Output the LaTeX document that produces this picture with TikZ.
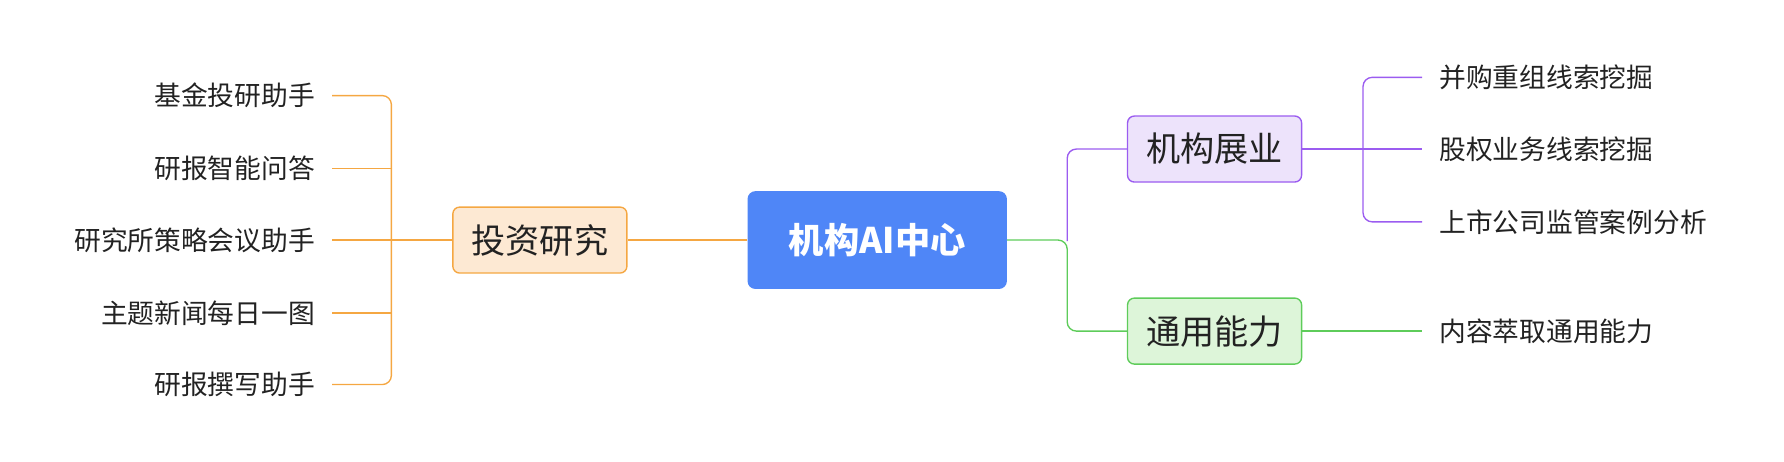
\documentclass[tikz,border=0pt]{standalone}
\usepackage{fontspec}
\setmainfont{Noto Sans CJK SC}
\definecolor{cblue}{HTML}{4F86F7}
\definecolor{corange}{HTML}{F5A742}
\definecolor{forange}{HTML}{FDE9D3}
\definecolor{cpurple}{HTML}{9B5CF0}
\definecolor{fpurple}{HTML}{EDE3FB}
\definecolor{cgreen}{HTML}{5ECC5A}
\definecolor{fgreen}{HTML}{DDF5D9}
\definecolor{ctext}{HTML}{222222}
\begin{document}
\begin{tikzpicture}[x=1pt,y=-1pt,
  topic/.style={draw,rounded corners=6pt,line width=1.2pt,minimum width=153pt,minimum height=58pt,inner sep=0pt,font=\fontsize{30}{34}\selectfont,text=ctext},
  leaf/.style={font=\fontsize{23.5}{27}\selectfont,text=ctext,inner sep=0pt},
  ln/.style={line width=1.2pt,rounded corners=8pt}]
\useasboundingbox (0,0) rectangle (1568,406);
\node[fill=cblue,rounded corners=7pt,minimum width=228pt,minimum height=86pt,inner sep=0pt,text=white,font=\fontsize{31}{35}\selectfont\bfseries] (c) at (771,211) {机构AI中心};
\node[topic,draw=corange,fill=forange] (l) at (474.5,211) {投资研究};
\node[topic,draw=cpurple,fill=fpurple] (p) at (1067.5,131) {机构展业};
\node[topic,draw=cgreen,fill=fgreen] (g) at (1067.5,291) {通用能力};
\draw[ln,corange] (c.west) -- (l.east);
\foreach \y/\t/\n in {84/基金投研助手/a,148/研报智能问答/b,211/研究所策略会议助手/cc,275/主题新闻每日一图/d,338/研报撰写助手/e}{
  \node[leaf,anchor=east] (L\n) at (277,\y) {\t};
  \coordinate (E\n) at (292,\y);
}
\draw[ln,corange] (l.west) -- (344,211);
\draw[ln,corange] (Ea) -- (344,84) -- (344,338) -- (Ee);
\draw[ln,corange] (Eb) -- (344,148);
\draw[ln,corange] (Ecc) -- (344,211);
\draw[ln,corange] (Ed) -- (344,275);
\draw[ln,cgreen] (c.east) -- (938,211) -- (938,291) -- (g.west);
\draw[ln,cpurple] (938,212) -- (938,131) -- (p.west);
\foreach \y/\t/\n in {68/并购重组线索挖掘/a,131/股权业务线索挖掘/b,195/上市公司监管案例分析/c}{
  \node[leaf,anchor=west] (R\n) at (1265,\y) {\t};
  \coordinate (F\n) at (1250,\y);
}
\draw[ln,cpurple] (Fa) -- (1198,68) -- (1198,195) -- (Fc);
\draw[ln,cpurple] (p.east) -- (Fb);
\node[leaf,anchor=west] (Rg) at (1265,291) {内容萃取通用能力};
\coordinate (Fg) at (1250,291);
\draw[ln,cgreen] (g.east) -- (Fg);
\end{tikzpicture}
\end{document}
